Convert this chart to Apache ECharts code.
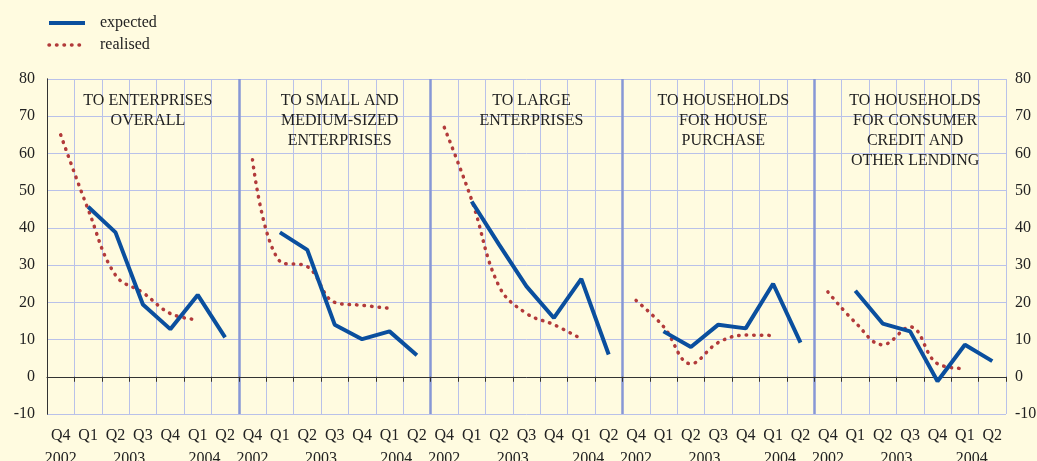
<!DOCTYPE html>
<html>
<head>
<meta charset="utf-8">
<script src="https://cdn.jsdelivr.net/npm/echarts@6/dist/echarts.min.js"></script>
<style>
  html, body { margin: 0; padding: 0; background: #fffbe0; }
  #chart { width: 1037px; height: 461px; }
</style>
</head>
<body>
<div id="chart"></div>
<script>
// 各面板标题
const panelTitles = [
  "TO ENTERPRISES\nOVERALL",
  "TO SMALL AND\nMEDIUM-SIZED\nENTERPRISES",
  "TO LARGE\nENTERPRISES",
  "TO HOUSEHOLDS\nFOR HOUSE\nPURCHASE",
  "TO HOUSEHOLDS\nFOR CONSUMER\nCREDIT AND\nOTHER LENDING",
];
const quarters = ["Q4", "Q1", "Q2", "Q3", "Q4", "Q1", "Q2"];
const yearLabels = ["2002", "2003", "2004"];
const yearAt = [0.5, 3, 5.75]; // in quarter slots within a panel

// expected: Q1 2003 .. Q2 2004
const expected1 = [45.7, 38.8, 19.4, 12.8, 22.0, 10.6];
const expected2 = [38.8, 34.1, 14.0, 10.1, 12.2, 5.8];
const expected3 = [47.1, 35.5, 24.3, 15.8, 26.3, 6.0];
const expected4 = [12.2, 8.0, 14.0, 13.0, 25.0, 9.2];
const expected5 = [23.1, 14.3, 12.2, -1.2, 8.6, 4.2];

// realised: Q4 2002 .. Q1 2004
const realised1 = [65.0, 45.0, 27.3, 22.6, 17.0, 15.3];
const realised2 = [58.3, 31.0, 29.6, 20.0, 19.2, 18.4];
const realised3 = [67.0, 47.5, 24.3, 17.0, 14.0, 10.2];
const realised4 = [20.5, 13.5, 3.5, 9.2, 11.2, 11.1];
const realised5 = [22.8, 14.6, 8.6, 13.4, 3.5, 2.2];

const expectedAll = [expected1, expected2, expected3, expected4, expected5];
const realisedAll = [realised1, realised2, realised3, realised4, realised5];

const FONT = "Liberation Serif";
const GRID = { left: 47, right: 31, top: 79, bottom: 47, outerBoundsMode: "none" };
const W = 1037;
const plotW = W - GRID.left - GRID.right;
const nPanel = panelTitles.length;
const nq = quarters.length;
const SEP = "#8797d6";

// 拼接类目和数据
const categories = [];
const expData = [];
const realData = [];
for (let p = 0; p < nPanel; p++) {
  quarters.forEach((q) => categories.push(q));
  expData.push(null, ...expectedAll[p]);
  realData.push(...realisedAll[p], null);
}

// 分隔线颜色: 两端透明, 让坐标轴线保持黑色
const sepColors = [];
for (let i = 0; i <= nPanel; i++) {
  sepColors.push(i === 0 || i === nPanel ? "rgba(0,0,0,0)" : SEP);
}

const expLine = { color: "#0a4f9e", width: 4 };
const realLine = { color: "#b23a3a", width: 3.5, type: [0.5, 7], cap: "round" };

const chart = echarts.init(document.getElementById("chart"));
chart.setOption({
  backgroundColor: "#fffbe0",
  animation: false,
  textStyle: { fontFamily: FONT, color: "#222" },
  title: panelTitles.map((t, i) => ({
    text: t,
    left: GRID.left + (i + 0.5) * plotW / nPanel,
    top: 86,
    textAlign: "center",
    textStyle: {
      fontFamily: FONT,
      fontSize: 16,
      fontWeight: "normal",
      color: "#222",
      lineHeight: 20,
    },
  })),
  legend: {
    orient: "vertical",
    left: 47,
    top: 15,
    padding: 0,
    itemWidth: 36,
    itemHeight: 14,
    itemGap: 6,
    itemStyle: { opacity: 0 },
    textStyle: { fontFamily: FONT, fontSize: 16, color: "#222", padding: [0, 0, 0, 10] },
    data: [
      { name: "expected", lineStyle: expLine },
      { name: "realised", lineStyle: realLine },
    ],
  },
  grid: GRID,
  xAxis: [
    {
      type: "category",
      data: categories,
      boundaryGap: true,
      axisLine: { lineStyle: { color: "#333", width: 1 } },
      axisTick: { show: true, interval: 0, length: 5, lineStyle: { color: "#333" } },
      axisLabel: { interval: 0, fontFamily: FONT, fontSize: 16, color: "#222", margin: 14 },
      splitLine: { show: true, interval: 0, lineStyle: { color: "#b9c1e9", width: 1 } },
    },
    {
      // 年份标签
      type: "value",
      min: 0,
      max: nPanel * nq,
      interval: 0.25,
      position: "bottom",
      axisLine: { show: false },
      axisTick: { show: false },
      splitLine: { show: false },
      axisLabel: {
        margin: 37,
        fontFamily: FONT,
        fontSize: 16,
        color: "#222",
        showMinLabel: true,
        showMaxLabel: true,
        formatter: (v) => {
          const off = v % nq;
          const k = yearAt.findIndex((a) => Math.abs(a - off) < 1e-6);
          return k >= 0 && v < nPanel * nq ? yearLabels[k] : "";
        },
      },
    },
    {
      // 面板分隔线
      type: "value",
      min: 0,
      max: nPanel * nq,
      interval: nq,
      position: "bottom",
      axisLine: { show: false },
      axisTick: { show: false },
      axisLabel: { show: false },
      splitLine: { show: true, lineStyle: { color: sepColors, width: 2.5 } },
    },
  ],
  yAxis: [
    {
      type: "value",
      min: -10,
      max: 80,
      interval: 10,
      position: "left",
      axisLine: { show: true, lineStyle: { color: "#333", width: 1 } },
      axisTick: { show: false },
      axisLabel: { fontFamily: FONT, fontSize: 16, color: "#222", margin: 12 },
      splitLine: { show: true, lineStyle: { color: "#b9c1e9", width: 1 } },
    },
    {
      type: "value",
      min: -10,
      max: 80,
      interval: 10,
      position: "right",
      axisLine: { show: true, lineStyle: { color: "#333", width: 1 } },
      axisTick: { show: false },
      axisLabel: { fontFamily: FONT, fontSize: 16, color: "#222", margin: 9 },
      splitLine: { show: false },
    },
  ],
  series: [
    {
      name: "expected",
      type: "line",
      data: expData,
      showSymbol: false,
      symbol: "none",
      connectNulls: false,
      color: "#0a4f9e",
      lineStyle: expLine,
      z: 5,
    },
    {
      name: "realised",
      type: "line",
      data: realData,
      showSymbol: false,
      symbol: "none",
      smooth: 0.4,
      connectNulls: false,
      color: "#b23a3a",
      lineStyle: realLine,
      z: 4,
    },
  ],
});
</script>
</body>
</html>
